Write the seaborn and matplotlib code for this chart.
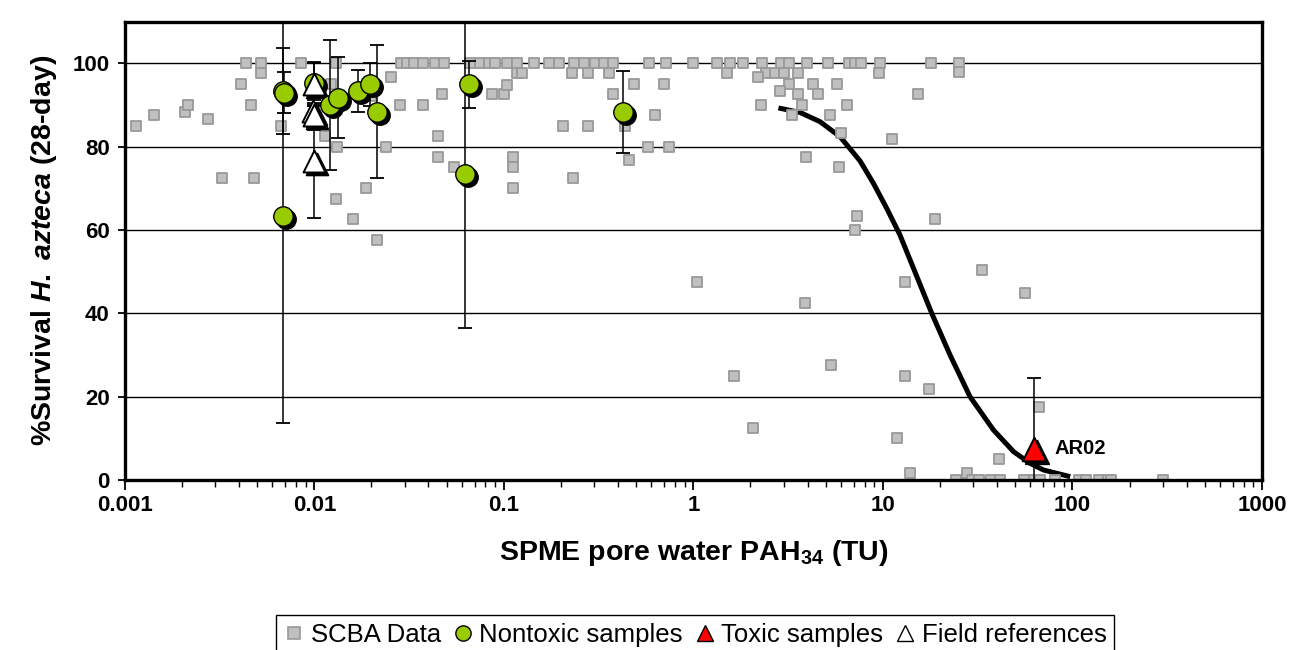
import numpy as np
import pandas as pd
import matplotlib
matplotlib.use("Agg")
import matplotlib.pyplot as plt
import matplotlib.transforms as mtransforms
from matplotlib.lines import Line2D
from matplotlib.ticker import FixedLocator, LogLocator, NullFormatter
import seaborn as sns

# ---------------- data ----------------
scba_x = [0.00114, 0.00142, 0.00209, 0.00215, 0.00274, 0.00325, 0.00409, 0.00436, 0.00463, 0.00481,
          0.00525, 0.00525, 0.0067, 0.0085, 0.01303, 0.01225, 0.01143, 0.01313, 0.0200, 0.0253,
          0.0283, 0.0376, 0.047, 0.0448, 0.0448, 0.0546, 0.0239, 0.01875, 0.01306, 0.01595,
          0.0215, 0.0286, 0.0307, 0.0337, 0.0376, 0.0435, 0.0483, 0.0664, 0.075, 0.0836,
          0.0895, 0.1035, 0.117, 0.144, 0.174, 0.196, 0.234, 0.265, 0.302, 0.338,
          0.378, 0.586, 0.718, 0.0865, 0.100, 0.1035, 0.117, 0.125, 0.229, 0.279,
          0.358, 0.486, 0.700, 0.378, 0.625, 0.205, 0.279, 0.437, 0.577, 0.741,
          0.112, 0.1115, 0.1115, 0.231, 0.458, 0.99, 1.33, 1.56, 1.82, 2.30,
          2.89, 3.21, 3.97, 5.15, 6.6, 7.1, 7.7, 9.66, 17.9, 25.2,
          1.50, 2.41, 2.68, 2.99, 3.58, 9.51, 2.18, 3.21, 4.25, 5.71,
          2.87, 3.57, 4.55, 15.3, 2.27, 3.72, 6.47, 3.33, 5.25, 6.02,
          3.94, 5.89, 7.33, 7.16, 11.2, 18.8, 25.2, 33.4, 1.046, 1.64,
          2.07, 3.87, 13.0, 56.5, 5.33, 13.0, 17.5, 11.9, 13.9, 27.9,
          40.9, 66.2, 24.3, 29.5, 32.3, 37.1, 41.5, 55.6, 62.3, 67.0,
          81.1, 107.7, 118.1, 137.7, 153.7, 160.0, 302.0]
scba_y = [85.0, 87.5, 88.3, 90.1, 86.6, 72.5, 95.0, 100, 90.0, 72.5,
          100, 97.6, 85.0, 100, 100, 95.0, 82.6, 80.0, 92.2, 96.8,
          90.0, 90.0, 92.6, 82.6, 77.6, 75.2, 80.0, 70.1, 67.5, 62.6,
          57.6, 100, 100, 100, 100, 100, 100, 100, 100, 100,
          100, 100, 100, 100, 100, 100, 100, 100, 100, 100,
          100, 100, 100, 92.6, 92.6, 94.8, 97.6, 97.6, 97.6, 97.6,
          97.6, 95.0, 95.0, 92.6, 87.5, 85.0, 85.0, 85.0, 80.0, 80.0,
          77.6, 75.2, 70.1, 72.6, 76.8, 100, 100, 100, 100, 100,
          100, 100, 100, 100, 100, 100, 100, 100, 100, 100,
          97.6, 97.6, 97.6, 97.6, 97.6, 97.6, 96.8, 95.0, 95.0, 95.0,
          93.4, 92.6, 92.6, 92.6, 90.0, 90.0, 90.0, 87.5, 87.5, 83.4,
          77.6, 75.2, 63.4, 60.0, 81.8, 62.6, 98.0, 50.5, 47.5, 25.0,
          12.6, 42.6, 47.6, 45.0, 27.6, 25.0, 21.8, 10.2, 1.8, 1.8,
          5.1, 17.5, 0, 0, 0, 0, 0, 0, 0, 0,
          0, 0, 0, 0, 0, 0, 0]

nontox_x = [0.0068, 0.0069, 0.0068, 0.00996, 0.0121, 0.0134, 0.0169, 0.0197, 0.0213, 0.0658, 0.0624, 0.4275]
nontox_y = [93.4, 93.0, 63.4, 95.4, 90.0, 91.8, 93.4, 95.0, 88.4, 95.0, 73.4, 88.4]
nontox_err = [10.4, 5.0, 49.6, 5.0, 15.5, 9.8, 5.0, 5.2, 16.0, 5.6, 36.8, 9.8]

tox_x = [62.3]
tox_y = [7.5]
tox_err = [16.9]
tox_labels = ["AR02"]

ref_x = [0.0100, 0.0098, 0.0100, 0.0100]
ref_y = [95.0, 88.5, 87.6, 76.5]
ref_err = [5.2, 3.8, 3.6, 13.5]

curve_x = [2.81, 3.66, 4.66, 5.94, 7.57, 8.91, 10.47, 12.3, 14.5,
           18.1, 22.6, 28.8, 38.3, 48.9, 59.8, 70.3, 97.3]
curve_y = [89.3, 88.2, 86.0, 82.4, 76.6, 71.2, 65.2, 58.8, 50.8,
           40.0, 30.0, 20.0, 12.0, 6.8, 4.0, 2.4, 0.8]

xtick_vals = [0.001, 0.01, 0.1, 1, 10, 100, 1000]
xtick_labels = ["0.001", "0.01", "0.1", "1", "10", "100", "1000"]
ytick_vals = [0, 20, 40, 60, 80, 100]

legend_labels = ["SCBA Data", "Nontoxic samples", "Toxic samples", "Field references"]

# ---------------- style ----------------
sns.set_style("white")
plt.rcParams['font.family'] = ['Liberation Sans', 'DejaVu Sans']
plt.rcParams['mathtext.fontset'] = 'custom'
plt.rcParams['mathtext.rm'] = 'Liberation Sans:bold'
plt.rcParams['mathtext.bf'] = 'Liberation Sans:bold'
plt.rcParams['mathtext.it'] = 'Liberation Sans:bold:italic'
for key in ['text.color', 'axes.labelcolor', 'xtick.color', 'ytick.color']:
    plt.rcParams[key] = 'black'

GREY_F = '#C0C0C0'
GREY_E = '#999999'
GREEN = '#99CC00'
RED = '#FF0000'

W, H = 1297, 650
fig = plt.figure(figsize=(W / 100, H / 100), dpi=100)
L, R, T, B = 124.8, 1262.0, 21.7, 480.0
ax = fig.add_axes([L / W, 1 - B / H, (R - L) / W, (B - T) / H])
ax.set_xscale('log')
ax.set_xlim(0.001, 1000)
ax.set_ylim(0, 110)

shadow = ax.transData + mtransforms.ScaledTranslation(3 / 100, -3 / 100, fig.dpi_scale_trans)

# grid
ax.yaxis.grid(True, color='black', linewidth=1.0, zorder=0)
ax.xaxis.grid(False)
ax.set_axisbelow(True)

# curve
curve_df = pd.DataFrame({'x': curve_x, 'y': curve_y})
sns.lineplot(data=curve_df, x='x', y='y', sort=False, estimator=None, color='black',
             linewidth=3.6, ax=ax, zorder=2, legend=False, solid_joinstyle='round',
             solid_capstyle='butt')

# SCBA squares
scba_df = pd.DataFrame({'x': scba_x, 'y': scba_y})
sns.scatterplot(data=scba_df, x='x', y='y', marker='s', s=55, color=GREY_F, edgecolor=GREY_E,
                linewidth=1.3, ax=ax, zorder=3, legend=False)

# error bars
for xs, ys, es in [(nontox_x, nontox_y, nontox_err), (ref_x, ref_y, ref_err), (tox_x, tox_y, tox_err)]:
    ax.errorbar(xs, ys, yerr=es, fmt='none', ecolor='black', elinewidth=1.1,
                capsize=5, capthick=1.3, zorder=4)

# nontoxic circles with shadow
nt_df = pd.DataFrame({'x': nontox_x, 'y': nontox_y})
sns.scatterplot(data=nt_df, x='x', y='y', marker='o', s=196, color='black', edgecolor='black',
                linewidth=1.0, ax=ax, zorder=5, legend=False, transform=shadow)
sns.scatterplot(data=nt_df, x='x', y='y', marker='o', s=196, color=GREEN, edgecolor='black',
                linewidth=1.0, ax=ax, zorder=6, legend=False)

# field reference triangles with shadow
rf_df = pd.DataFrame({'x': ref_x, 'y': ref_y})
sns.scatterplot(data=rf_df, x='x', y='y', marker='^', s=250, color='black', edgecolor='black',
                linewidth=1.2, ax=ax, zorder=5, legend=False, transform=shadow)
sns.scatterplot(data=rf_df, x='x', y='y', marker='^', s=250, color='white', edgecolor='black',
                linewidth=1.4, ax=ax, zorder=6, legend=False)

# toxic triangle with shadow
tx_df = pd.DataFrame({'x': tox_x, 'y': tox_y})
sns.scatterplot(data=tx_df, x='x', y='y', marker='^', s=290, color='black', edgecolor='black',
                linewidth=1.2, ax=ax, zorder=5, legend=False, transform=shadow)
sns.scatterplot(data=tx_df, x='x', y='y', marker='^', s=290, color=RED, edgecolor='black',
                linewidth=1.4, ax=ax, zorder=6, legend=False)
for x, y, lab in zip(tox_x, tox_y, tox_labels):
    ax.annotate(lab, (x, y), xytext=(21, 0), textcoords='offset pixels', va='center', ha='left',
                fontsize=14.5, fontweight='bold', color='black', zorder=7)

# axes styling
for side in ['left', 'right', 'top', 'bottom']:
    ax.spines[side].set_visible(True)
    ax.spines[side].set_color('black')
    ax.spines[side].set_linewidth(2.4)
    ax.spines[side].set_zorder(8)

ax.xaxis.set_major_locator(FixedLocator(xtick_vals))
ax.set_xticklabels(xtick_labels)
ax.xaxis.set_minor_locator(LogLocator(base=10, subs=np.arange(2, 10)))
ax.xaxis.set_minor_formatter(NullFormatter())
ax.set_yticks(ytick_vals)
ax.set_yticklabels([str(v) for v in ytick_vals])
ax.tick_params(axis='x', which='major', direction='out', length=7, width=1.3, pad=4,
               labelsize=16, bottom=True, colors='black')
ax.tick_params(axis='x', which='minor', direction='out', length=5, width=1.0, bottom=True,
               colors='black')
ax.tick_params(axis='y', which='major', direction='out', length=5, width=1.3, pad=6,
               labelsize=16, left=True, colors='black')
for lab in ax.get_xticklabels() + ax.get_yticklabels():
    lab.set_fontweight('bold')

ax.set_xlabel(r'SPME pore water PAH$_{34}$ (TU)', fontsize=20.5, fontweight='bold',
              labelpad=16, color='black')
ax.set_ylabel(r'%Survival $\mathit{H.\ azteca}$ (28-day)', fontsize=20.5, fontweight='bold',
              labelpad=10, color='black')

# legend
handles = [
    Line2D([], [], marker='s', ls='none', markersize=9, markerfacecolor=GREY_F, markeredgecolor=GREY_E, markeredgewidth=1.2),
    Line2D([], [], marker='o', ls='none', markersize=11, markerfacecolor=GREEN, markeredgecolor='black', markeredgewidth=1.0),
    Line2D([], [], marker='^', ls='none', markersize=11, markerfacecolor=RED, markeredgecolor='black', markeredgewidth=1.0),
    Line2D([], [], marker='^', ls='none', markersize=11, markerfacecolor='white', markeredgecolor='black', markeredgewidth=1.0),
]
leg = fig.legend(handles, legend_labels, loc='upper center', bbox_to_anchor=(0.536, 1 - 615 / H),
                 ncol=4, frameon=True, fancybox=False, edgecolor='black', framealpha=1,
                 fontsize=18.5, handlelength=0.8, handletextpad=0.25, columnspacing=0.45,
                 borderpad=0.3, borderaxespad=0, labelcolor='black')
leg.get_frame().set_linewidth(1.0)

fig.savefig('out.png', dpi=100)
